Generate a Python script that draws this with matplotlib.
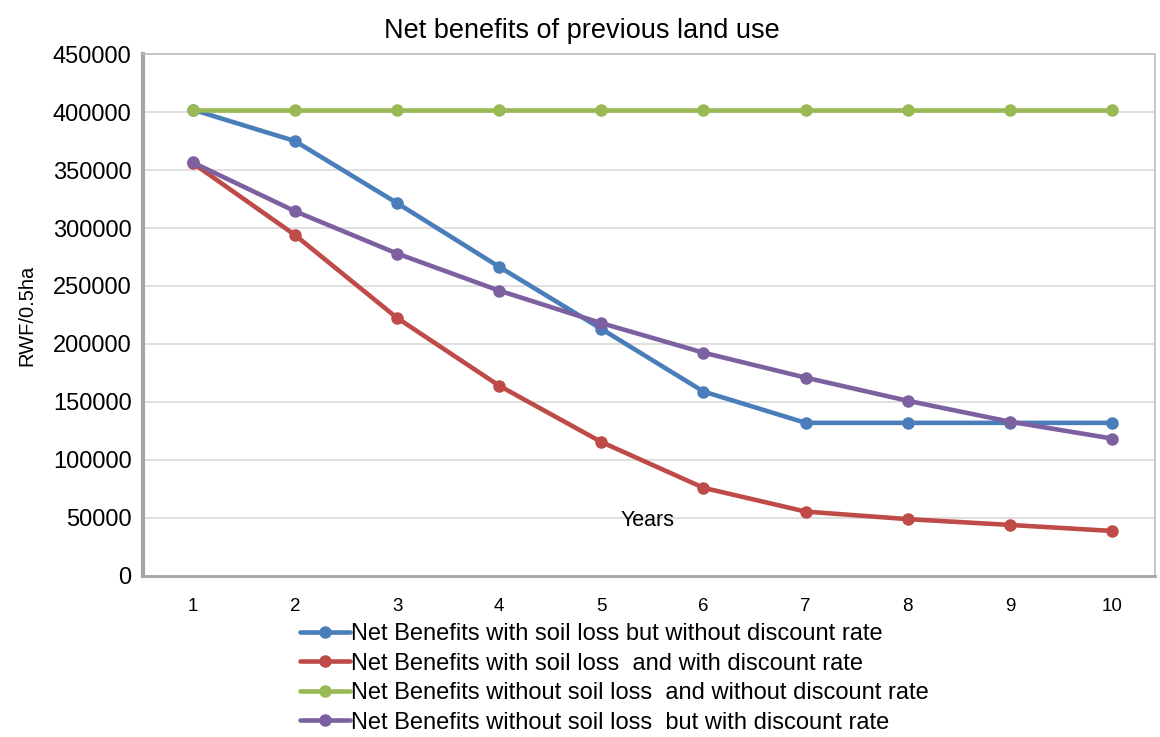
import matplotlib
matplotlib.use("Agg")
import matplotlib.pyplot as plt
from matplotlib.ticker import MultipleLocator

years = [1, 2, 3, 4, 5, 6, 7, 8, 9, 10]

soil_loss_no_discount = [402000, 375000, 321500, 266500, 213000, 159000, 132000, 132000, 132000, 132000]
soil_loss_with_discount = [356000, 294000, 222500, 164000, 115500, 76000, 55500, 49000, 44000, 38800]
no_soil_loss_no_discount = [402000] * 10
no_soil_loss_with_discount = [356500, 314500, 278000, 246000, 218000, 192500, 171000, 151000, 133000, 118500]

series_labels = [
    "Net Benefits with soil loss but without discount rate",
    "Net Benefits with soil loss  and with discount rate",
    "Net Benefits without soil loss  and without discount rate",
    "Net Benefits without soil loss  but with discount rate",
]
series_colors = ["#4A7EBB", "#BE4B48", "#98B954", "#7D60A0"]

plt.rcParams["font.family"] = ["Liberation Sans", "DejaVu Sans"]

fig = plt.figure(figsize=(11.6, 7.37), dpi=100)
ax = fig.add_axes([0.123, 0.2185, 0.8727, 0.7082])

series = [soil_loss_no_discount, soil_loss_with_discount,
          no_soil_loss_no_discount, no_soil_loss_with_discount]
for values, label, color in zip(series, series_labels, series_colors):
    ax.plot(years, values, color=color, lw=3.3, marker="o", markersize=8,
            label=label, solid_capstyle="round")

ax.set_xlim(0.51, 10.42)
ax.set_ylim(0, 450000)
ax.yaxis.set_major_locator(MultipleLocator(50000))
ax.set_xticks(years)
ax.grid(axis="y", color="#D9D9D9", lw=1.2)
ax.set_axisbelow(True)

for side in ["top", "right"]:
    ax.spines[side].set_color("#BFBFBF")
    ax.spines[side].set_linewidth(1.2)
ax.spines["left"].set_color("#A6A6A6")
ax.spines["left"].set_linewidth(3)
ax.spines["bottom"].set_color("#A6A6A6")
ax.spines["bottom"].set_linewidth(2)

ax.tick_params(axis="y", length=0, labelsize=17, pad=8)
ax.tick_params(axis="x", length=0, labelsize=13.5, pad=16)

fig.suptitle("Net benefits of previous land use", fontsize=19.5, x=0.502, y=0.976)
ax.set_ylabel("RWF/0.5ha", fontsize=14.5, labelpad=12)
ax.text(5.45, 48000, "Years", fontsize=15.5, ha="center", va="center")

ax.legend(loc="upper left", bbox_to_anchor=(0.146, -0.072), frameon=False,
          fontsize=17, handlelength=2.1, handletextpad=0.05,
          labelspacing=0.32, borderaxespad=0)

fig.savefig("out.png", dpi=100)
